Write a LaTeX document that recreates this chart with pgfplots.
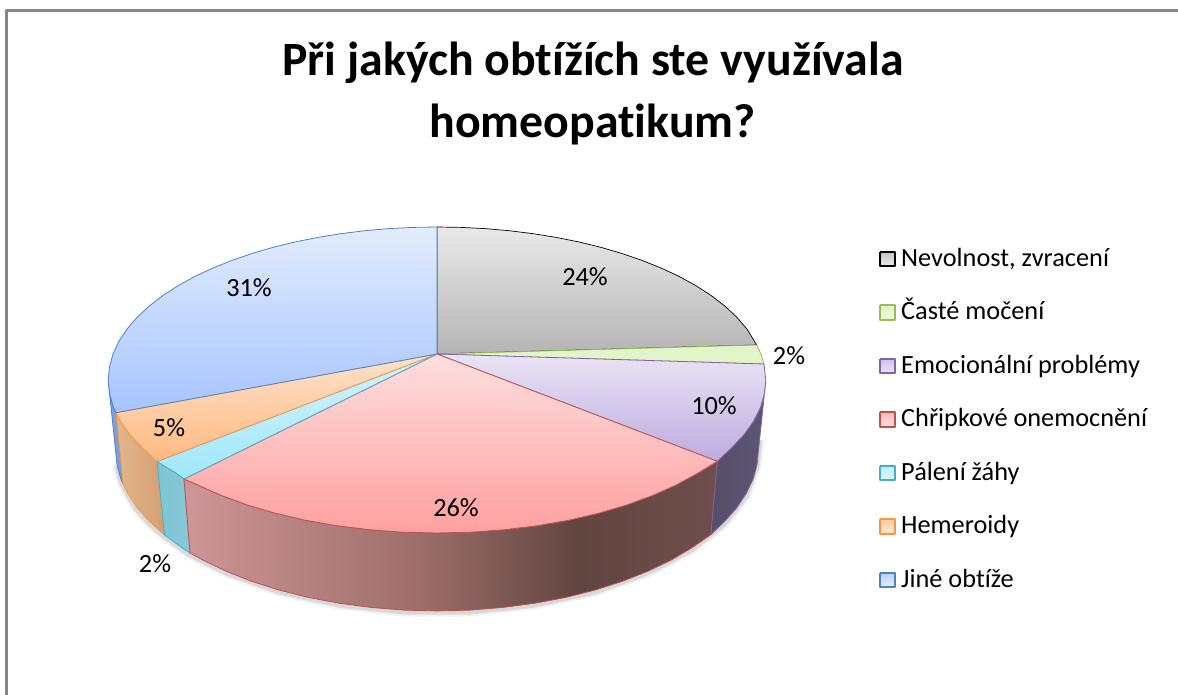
\documentclass[border=0pt]{standalone}
\usepackage{fontspec}
\setmainfont[Ligatures=NoCommon]{Carlito}
\usepackage{pgfplots}
\pgfplotsset{compat=1.18}
\definecolor{cK}{HTML}{000000}\definecolor{cG}{HTML}{9BBB59}\definecolor{cP}{HTML}{8064A2}
\definecolor{cR}{HTML}{C0504D}\definecolor{cC}{HTML}{4BACC6}\definecolor{cO}{HTML}{F79646}\definecolor{cB}{HTML}{4F81BD}
\definecolor{rs1}{HTML}{CE9696}\definecolor{rs2}{HTML}{9E6E6A}\definecolor{rs3}{HTML}{614540}\definecolor{rs4}{HTML}{6E4E4C}
\definecolor{frameC}{HTML}{868686}
\pgfdeclarehorizontalshading{redside}{100bp}{color(0bp)=(rs1); color(25bp)=(rs1); color(47bp)=(rs2); color(62bp)=(rs3); color(75bp)=(rs4); color(100bp)=(rs4)}
\begin{document}
\begin{tikzpicture}
\begin{axis}[
  width=1178pt,height=695pt,scale only axis,
  xmin=0,xmax=1178,ymin=0,ymax=695,y dir=reverse,
  axis lines=none,clip=false,
  no markers,
  every axis plot/.append style={line join=round,line width=0.8pt},
]
% frame
\addplot[draw=frameC,line width=2.5pt] coordinates {(6.5,695)(6.5,10.5)(1178,10.5)};
% shadow
\addplot[draw=black,opacity=.05,line width=9pt] coordinates {(116.9,466)(120.8,481)(127.7,495)(137.1,510)(149.5,524)(164.5,537)(190,555)(226,573)(278.8,592)(338.9,605)(403.7,612)(470.3,612)(535.1,605)(595.2,592)(648,573)(691.7,550)(724.5,524)(746.3,496)(757.1,466)(760,440)};
\addplot[draw=black,opacity=.10,line width=5pt] coordinates {(116.9,466)(120.8,481)(127.7,495)(137.1,510)(149.5,524)(164.5,537)(190,555)(226,573)(278.8,592)(338.9,605)(403.7,612)(470.3,612)(535.1,605)(595.2,592)(648,573)(691.7,550)(724.5,524)(746.3,496)(757.1,466)(760,440)};
% sides
\addplot[draw=cB,left color={rgb,255:red,130;green,165;blue,220},right color={rgb,255:red,120;green,155;blue,215}] coordinates {(116,412.7)(113.7,408)(109.7,394.2)(108.2,380.6)(115.5,449.9)(116.9,464.3)(120.8,478.9)(123,483.8)(116,412.7)};
\addplot[draw=cO,left color={rgb,255:red,226;green,182;blue,140},right color={rgb,255:red,212;green,160;blue,114}] coordinates {(157,461.5)(143,448.4)(130.4,435.2)(120.7,421.7)(116,412.7)(123,483.8)(127.7,493.3)(137.1,507.6)(149.5,521.5)(164.5,535)(157,461.5)};
\addplot[draw=cC,left color={rgb,255:red,126;green,197;blue,212},right color={rgb,255:red,134;green,200;blue,214}] coordinates {(184,479)(176.6,473.4)(157,461.5)(164.5,535)(182.3,547.9)(190,553)(184,479)};
\addplot[draw=cR,shade,shading=redside] coordinates {(717.3,461.3)(697.4,473.4)(676.4,484.9)(652.8,495.4)(626.9,504.9)(598.8,513.2)(568.8,520.2)(537.3,525.7)(504.6,529.7)(471,532.2)(437,533)(403,532.2)(369.4,529.7)(336.7,525.7)(305.2,520.2)(275.2,513.2)(247.1,504.9)(221.2,495.4)(197.6,484.9)(184,479)(190,553)(202.9,560.1)(226,571.2)(251.3,581.2)(278.8,590)(308.1,597.4)(338.9,603.2)(370.9,607.4)(403.7,610.1)(437,610.9)(470.3,610.1)(503.1,607.4)(535.1,603.2)(565.9,597.4)(595.2,590)(622.7,581.2)(648,571.2)(671.1,560.1)(691.7,547.9)(711,534.5)(717.3,461.3)};
\addplot[draw=cP,left color={rgb,255:red,87;green,78;blue,104},right color={rgb,255:red,92;green,86;blue,116}] coordinates {(717.3,461.3)(731,448.4)(743.6,435.2)(753.3,421.7)(760.3,408)(764.3,394.2)(765.8,380.6)(758.5,449.9)(757.1,464.3)(753.2,478.9)(746.3,493.3)(736.9,507.6)(724.5,521.5)(711,534.5)(717.3,461.3)};
% top
\addplot[draw=black,line width=.7pt,top color={rgb,255:red,233;green,233;blue,233},bottom color={rgb,255:red,180;green,180;blue,180}] coordinates {(437,354)(437,227)(461.2,227.4)(485.2,228.6)(509,230.7)(532.6,233.6)(555.7,237.3)(578.2,241.8)(600.1,247.1)(621.3,253.3)(641.5,260.2)(660.8,267.9)(678.9,276.3)(695.6,285.5)(711,295.4)(724.8,306)(736.8,317.2)(746.9,328.9)(756.7,345)(437,354)};
\addplot[draw=cG,top color={rgb,255:red,228;green,244;blue,205},bottom color={rgb,255:red,224;green,245;blue,196}] coordinates {(437,354)(756.7,345)(761,354)(764,364)(437,354)};
\addplot[draw=cP,top color={rgb,255:red,234;green,228;blue,245},bottom color={rgb,255:red,188;green,172;blue,222}] coordinates {(437,354)(764,364)(765.8,380.6)(764.3,394.2)(760.3,408)(753.3,421.7)(743.6,435.2)(731,448.4)(717.3,461.3)(437,354)};
\addplot[draw=cR,top color={rgb,255:red,252;green,222;blue,222},bottom color={rgb,255:red,255;green,160;blue,160}] coordinates {(437,354)(717.3,461.3)(697.4,473.4)(676.4,484.9)(652.8,495.4)(626.9,504.9)(598.8,513.2)(568.8,520.2)(537.3,525.7)(504.6,529.7)(471,532.2)(437,533)(403,532.2)(369.4,529.7)(336.7,525.7)(305.2,520.2)(275.2,513.2)(247.1,504.9)(221.2,495.4)(197.6,484.9)(184,479)(437,354)};
\addplot[draw=cC,top color={rgb,255:red,214;green,242;blue,249},bottom color={rgb,255:red,160;green,232;blue,250}] coordinates {(437,354)(184,479)(176.6,473.4)(157,461.5)(437,354)};
\addplot[draw=cO,top color={rgb,255:red,253;green,226;blue,204},bottom color={rgb,255:red,255;green,185;blue,127}] coordinates {(437,354)(157,461.5)(143,448.4)(130.4,435.2)(120.7,421.7)(116,412.7)(437,354)};
\addplot[draw=cB,top color={rgb,255:red,226;green,236;blue,252},bottom color={rgb,255:red,166;green,196;blue,255}] coordinates {(437,354)(116,412.7)(113.7,408)(109.7,394.2)(108.2,380.6)(109.4,367.2)(113,354)(118.9,341.2)(127.1,328.9)(137.2,317.2)(149.2,306)(163,295.4)(178.4,285.5)(195.1,276.3)(213.2,267.9)(232.5,260.2)(252.7,253.3)(273.9,247.1)(295.8,241.8)(318.3,237.3)(341.4,233.6)(365,230.7)(388.8,228.6)(412.8,227.4)(437,227)(437,354)};
% legend swatches
\addplot[draw=cK,line width=2pt,top color={rgb,255:red,195;green,195;blue,195},bottom color={rgb,255:red,235;green,235;blue,235}] coordinates {(880,251.5)(895,251.5)(895,266)(880,266)(880,251.5)};
\addplot[draw=cG,line width=2pt,top color={rgb,255:red,225;green,243;blue,200},bottom color={rgb,255:red,238;green,248;blue,222}] coordinates {(880,305)(895,305)(895,319.5)(880,319.5)(880,305)};
\addplot[draw=cP,line width=2pt,top color={rgb,255:red,205;green,192;blue,232},bottom color={rgb,255:red,234;green,228;blue,245}] coordinates {(880,358.5)(895,358.5)(895,373)(880,373)(880,358.5)};
\addplot[draw=cR,line width=2pt,top color={rgb,255:red,255;green,185;blue,185},bottom color={rgb,255:red,252;green,225;blue,225}] coordinates {(880,412)(895,412)(895,426.5)(880,426.5)(880,412)};
\addplot[draw=cC,line width=2pt,top color={rgb,255:red,185;green,238;blue,250},bottom color={rgb,255:red,220;green,245;blue,250}] coordinates {(880,465.5)(895,465.5)(895,480)(880,480)(880,465.5)};
\addplot[draw=cO,line width=2pt,top color={rgb,255:red,255;green,205;blue,165},bottom color={rgb,255:red,253;green,230;blue,210}] coordinates {(880,519)(895,519)(895,533.5)(880,533.5)(880,519)};
\addplot[draw=cB,line width=2pt,top color={rgb,255:red,185;green,208;blue,255},bottom color={rgb,255:red,228;green,237;blue,252}] coordinates {(880,572.5)(895,572.5)(895,587)(880,587)(880,572.5)};
% texts
\def\fs{\fontsize{26.3}{30}\selectfont}
\node[anchor=base,inner sep=0pt,font=\fontsize{47.8}{54}\selectfont\bfseries] at (axis cs:593,76) {Při jakých obtížích ste využívala};
\node[anchor=base,inner sep=0pt,font=\fontsize{47.8}{54}\selectfont\bfseries] at (axis cs:592.5,138) {homeopatikum?};
\node[anchor=base,inner sep=0pt,font=\fs] at (axis cs:585,285.5) {24\%};
\node[anchor=base,inner sep=0pt,font=\fs] at (axis cs:789,364.5) {2\%};
\node[anchor=base,inner sep=0pt,font=\fs] at (axis cs:714,414.3) {10\%};
\node[anchor=base,inner sep=0pt,font=\fs] at (axis cs:456,516) {26\%};
\node[anchor=base,inner sep=0pt,font=\fs] at (axis cs:155,572) {2\%};
\node[anchor=base,inner sep=0pt,font=\fs] at (axis cs:169,436.7) {5\%};
\node[anchor=base,inner sep=0pt,font=\fs] at (axis cs:249,296.5) {31\%};
\node[anchor=base west,inner sep=0pt,font=\fs] at (axis cs:901,266) {Nevolnost, zvracení};
\node[anchor=base west,inner sep=0pt,font=\fs] at (axis cs:901,319.5) {Časté močení};
\node[anchor=base west,inner sep=0pt,font=\fs] at (axis cs:901,373) {Emocionální problémy};
\node[anchor=base west,inner sep=0pt,font=\fs] at (axis cs:901,426.5) {Chřipkové onemocnění};
\node[anchor=base west,inner sep=0pt,font=\fs] at (axis cs:901,480) {Pálení žáhy};
\node[anchor=base west,inner sep=0pt,font=\fs] at (axis cs:901,533.5) {Hemeroidy};
\node[anchor=base west,inner sep=0pt,font=\fs] at (axis cs:901,587) {Jiné obtíže};
\end{axis}
\pgfresetboundingbox
\path[use as bounding box] (0,0) rectangle (1178pt,695pt);
\end{tikzpicture}
\end{document}
